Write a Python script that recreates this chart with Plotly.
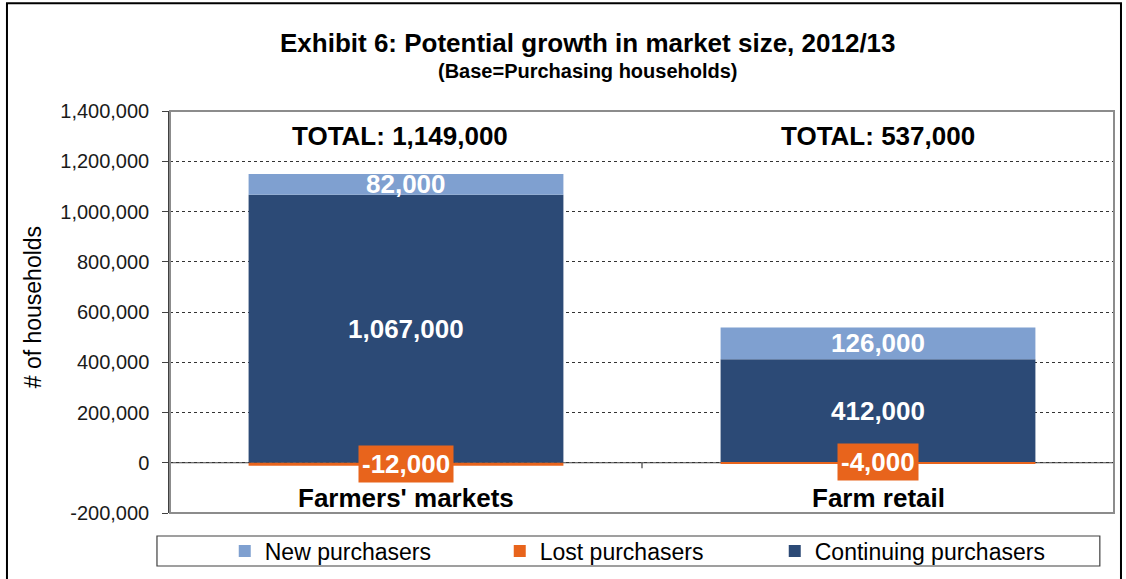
import plotly.graph_objects as go

# Market size components by channel (households)
categories = ["Farmers' markets", "Farm retail"]
continuing = [1067000, 412000]
new_purchasers = [82000, 126000]
lost = [-12000, -4000]
totals = [1149000, 537000]

y_ticks = [-200000, 0, 200000, 400000, 600000, 800000, 1000000, 1200000, 1400000]

C_NEW = "#7FA0D0"
C_LOST = "#E8641C"
C_CONT = "#2C4A76"
FONT = "Liberation Sans, Arial, sans-serif"

fig = go.Figure()
fig.add_trace(go.Bar(x=categories, y=continuing, name="Continuing purchasers",
                     marker=dict(color=C_CONT, line=dict(width=0)), legendrank=3))
fig.add_trace(go.Bar(x=categories, y=new_purchasers, name="New purchasers",
                     marker=dict(color=C_NEW, line=dict(width=0)), legendrank=1))
fig.add_trace(go.Bar(x=categories, y=lost, name="Lost purchasers",
                     marker=dict(color=C_LOST, line=dict(width=0)), legendrank=2))


def label_font(size, color="white"):
    return dict(family=FONT, size=size, color=color, weight="bold")


ann = []
for i, cat in enumerate(categories):
    # value labels inside the stacked segments
    ann.append(dict(x=cat, y=continuing[i] / 2, text=f"{continuing[i]:,}", showarrow=False,
                    yanchor="middle", font=label_font(26)))
    ann.append(dict(x=cat, y=continuing[i] + new_purchasers[i] / 2, text=f"{new_purchasers[i]:,}",
                    showarrow=False, yanchor="middle", font=label_font(26)))
    # lost purchasers: boxed label sitting on the zero line
    ann.append(dict(x=cat, y=lost[i], text=f"{lost[i]:,}", showarrow=False, yanchor="middle",
                    yshift=2, bgcolor=C_LOST, borderpad=3, font=label_font(26)))
    ann.append(dict(x=cat, y=1300000, text=f"TOTAL: {totals[i]:,}", showarrow=False,
                    yanchor="middle", xshift=-6 if i == 0 else 0, font=label_font(26, "black")))
    ann.append(dict(x=cat, y=-140000, text=cat, showarrow=False, yanchor="middle",
                    font=label_font(26, "black")))

ann.append(dict(xref="paper", yref="paper", x=0.443, y=1.169, xanchor="center", yanchor="middle",
                text="Exhibit 6: Potential growth in market size, 2012/13", showarrow=False,
                font=label_font(26, "black")))
ann.append(dict(xref="paper", yref="paper", x=0.443, y=1.0995, xanchor="center", yanchor="middle",
                text="(Base=Purchasing households)", showarrow=False,
                font=label_font(20, "black")))
ann.append(dict(xref="paper", yref="paper", x=-0.145, y=0.512, xanchor="center", yanchor="middle",
                textangle=-90, text="# of households", showarrow=False,
                font=dict(family=FONT, size=23, color="black")))

shapes = [
    # plot area frame
    dict(type="rect", xref="paper", yref="paper", x0=0, x1=1, y0=0, y1=1,
         line=dict(color="#8C8C8C", width=2), layer="above"),
    # zero line
    dict(type="line", xref="paper", yref="y", x0=0, x1=1, y0=0, y1=0,
         line=dict(color="#404040", width=1.2), layer="below"),
    # category divider tick
    dict(type="line", xref="x", yref="y", x0=0.5, x1=0.5, y0=0, y1=-22000,
         line=dict(color="#404040", width=1.2)),
    # legend frame
    dict(type="rect", xref="paper", yref="paper", x0=-0.0138, x1=0.985, y0=-0.0572, y1=-0.1318,
         line=dict(color="#404040", width=1.2)),
    # outer chart border
    dict(type="rect", xref="paper", yref="paper", x0=-0.1727, x1=1.0074, y0=-0.2, y1=1.268,
         line=dict(color="black", width=2)),
]

fig.update_layout(
    width=1126, height=579,
    margin=dict(l=170, r=12, t=111, b=66, autoexpand=False),
    paper_bgcolor="white", plot_bgcolor="white",
    barmode="relative", bargap=0.333,
    font=dict(family=FONT, color="black"),
    showlegend=True,
    legend=dict(orientation="h", x=0.058, xanchor="left", y=-0.0945, yanchor="middle",
                font=dict(family=FONT, size=23, color="black"),
                entrywidth=230, bgcolor="rgba(0,0,0,0)", itemclick=False),
    annotations=ann,
    shapes=shapes,
)
fig.update_xaxes(showticklabels=False, showgrid=False, zeroline=False, showline=False, ticks="",
                 automargin=False)
fig.update_yaxes(range=[-200000, 1400000], tickvals=y_ticks,
                 ticktext=[f"{v:,}" for v in y_ticks],
                 tickfont=dict(family=FONT, size=20, color="#1a1a1a"),
                 showgrid=True, gridcolor="#333333", griddash="dot", gridwidth=1,
                 zeroline=False, showline=True, linecolor="#404040", linewidth=1.5,
                 ticks="outside", ticklen=6, tickcolor="#404040", ticklabelstandoff=9,
                 automargin=False)

fig.write_html("out.html")
